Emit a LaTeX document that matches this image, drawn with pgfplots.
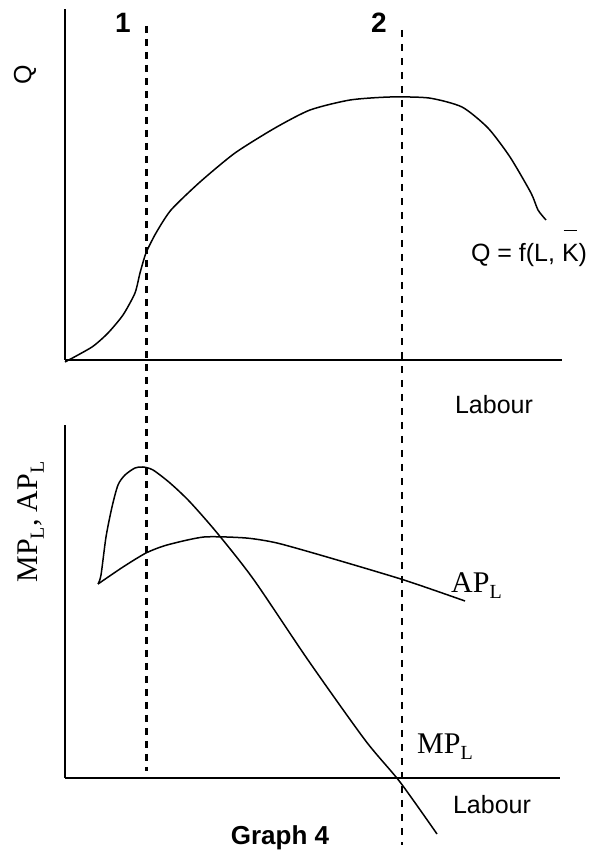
\documentclass[border=0pt]{standalone}
\usepackage{pgfplots}
\pgfplotsset{compat=1.18}
\usepackage{fontspec}
\setmainfont{Liberation Serif}
\newfontfamily\arial{Liberation Sans}
\newcommand{\sub}[1]{\raisebox{-6pt}{\fontsize{20}{20}\selectfont #1}}
\begin{document}
\begin{tikzpicture}
\useasboundingbox (0pt,0pt) rectangle (600pt,852pt);
% ---------- top panel: total product ----------
\begin{axis}[at={(65pt,492pt)}, anchor=origin, scale only axis,
  width=497pt, height=351pt, xmin=0, xmax=497, ymin=0, ymax=351,
  axis x line=bottom, axis y line=left,
  axis line style={-, line width=1.6pt},
  xtick=\empty, ytick=\empty, clip=false]
\addplot[black, line width=1.5pt, smooth, tension=0.4] coordinates {
(0,-2) (27,13) (43,27) (58,45) (70,67) (75,87) (81,107) (91,127) (106,150)
(135,178) (170,207) (210,232) (245,250) (285,260) (325,263) (364,262)
(397,253) (423,232) (445,203) (466,167) (473,150) (481,140)};
\addplot[black, line width=3pt, dash pattern=on 7pt off 6pt] coordinates {(81,334) (81,-411)};
\addplot[black, line width=1.6pt, dash pattern=on 7pt off 7pt] coordinates {(337,330) (337,-485)};
\end{axis}
% ---------- bottom panel: MP and AP ----------
\begin{axis}[at={(65pt,74pt)}, anchor=origin, scale only axis,
  width=495pt, height=353pt, xmin=0, xmax=495, ymin=0, ymax=353,
  axis x line=bottom, axis y line=left,
  axis line style={-, line width=1.6pt},
  xtick=\empty, ytick=\empty, clip=false]
% MP_L
\addplot[black, line width=1.5pt, smooth, tension=0.45] coordinates {
(33,194) (36,203) (41,241) (47,271) (53,293) (60,303) (70,310) (78,311)
(88,308) (105,295) (125,276) (153,244) (189,198) (243,118) (300,38)
(335,-4) (372,-56)};
% AP_L
\addplot[black, line width=1.5pt, smooth, tension=0.4] coordinates {
(33,194) (58,211) (81,225) (102,233) (139,241) (181,240) (212,235)
(262,221) (339,198) (400,177)};
\end{axis}
% ---------- labels ----------
\node[rotate=90, font=\arial\fontsize{25}{30}\selectfont] at (25pt,777pt) {Q};
\node[font=\arial\bfseries\fontsize{28}{30}\selectfont] at (123pt,829pt) {1};
\node[font=\arial\bfseries\fontsize{28}{30}\selectfont] at (379pt,829pt) {2};
\node[font=\arial\fontsize{25}{30}\selectfont] at (529pt,604pt)
  {Q = f(L, \makebox[0pt][l]{\hspace{1.5pt}\rule[30pt]{13pt}{1.3pt}}K)};
\node[font=\arial\fontsize{25}{30}\selectfont] at (494pt,447pt) {Labour};
\node[font=\arial\fontsize{25}{30}\selectfont] at (492pt,47pt) {Labour};
\node[rotate=90, font=\fontsize{30}{34}\selectfont] at (31pt,330pt) {MP\sub{L}, AP\sub{L}};
\node[anchor=base west, font=\fontsize{30}{34}\selectfont, inner sep=0pt] at (451pt,259pt) {AP\sub{L}};
\node[anchor=base west, font=\fontsize{30}{34}\selectfont, inner sep=0pt] at (417pt,98pt) {MP\sub{L}};
\node[font=\arial\bfseries\fontsize{26}{30}\selectfont] at (280pt,14pt) {Graph 4};
\end{tikzpicture}
\end{document}
